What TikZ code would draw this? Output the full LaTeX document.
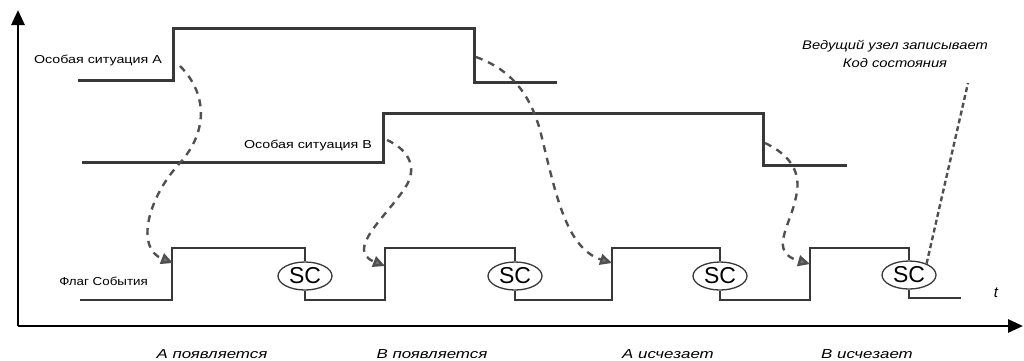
\documentclass[tikz,border=0pt]{standalone}
\usepackage{fontspec}
\setmainfont{Liberation Sans}
\usetikzlibrary{arrows.meta,shapes.geometric}
\definecolor{sig}{HTML}{383838}
\definecolor{dsh}{HTML}{505050}
\tikzset{
  axis/.style={line width=2.8pt, black, -{Triangle[length=15pt,width=13pt]}},
  signal/.style={line width=3pt, sig, line join=miter},
  flagline/.style={line width=2.4pt, sig},
  scnode/.style={ellipse, draw=sig, line width=1.3pt, fill=white, minimum width=54pt, minimum height=28pt, inner sep=0pt, font=\fontsize{23}{23}\selectfont},
  curvearrow/.style={dsh, line width=2.4pt, dash pattern=on 7pt off 6pt, -{Triangle[length=12pt,width=11pt,fill=dsh!80]}},
  lab/.style={font=\fontsize{11.5}{13}\selectfont, inner sep=0pt},
  evlab/.style={font=\fontsize{13}{15}\itshape, inner sep=0pt},
}
\begin{document}
\begin{tikzpicture}[x=1pt,y=-1pt]
\useasboundingbox (0,0) rectangle (1024,360);
% axes
\coordinate (o) at (18,326);
\coordinate (ytop) at (18,10);
\coordinate (xend) at (1023,326);
\draw[axis] (o) -- (ytop);
\draw[axis] (o) -- (xend);
% signal A
\coordinate (a0) at (78,80);
\coordinate (a1) at (173,80);
\coordinate (a2) at (173,28);
\coordinate (a3) at (474,28);
\coordinate (a4) at (474,82);
\coordinate (a5) at (557,82);
\draw[signal] (a0) -- (a1) -- (a2) -- (a3) -- (a4) -- (a5);
% signal B
\coordinate (b0) at (82,162);
\coordinate (b1) at (383,162);
\coordinate (b2) at (383,113);
\coordinate (b3) at (763,113);
\coordinate (b4) at (763,165);
\coordinate (b5) at (847,165);
\draw[signal] (b0) -- (b1) -- (b2) -- (b3) -- (b4) -- (b5);
% flag
\node[scnode] (sc1) at (305,276) {SC};
\node[scnode] (sc2) at (515,276) {SC};
\node[scnode] (sc3) at (720,276) {SC};
\node[scnode] (sc4) at (909,275) {SC};
\draw[flagline] (80,300) -- (172,300) -- (172,248) -- (305,248) -- (sc1.north);
\draw[flagline] (sc1.south) -- (305,300) -- (385,300) -- (385,248) -- (515,248) -- (sc2.north);
\draw[flagline] (sc2.south) -- (515,300) -- (612,300) -- (612,248) -- (720,248) -- (sc3.north);
\draw[flagline] (sc3.south) -- (720,300) -- (810,300) -- (810,248) -- (909,248) -- (sc4.north);
\draw[flagline] (sc4.south) -- (909,298) -- (961,298);
% labels
\node[lab, anchor=east] (la) at (162,60) {\scalebox{1.24}[1]{Особая ситуация А}};
\node[lab, anchor=east] (lb) at (372,145) {\scalebox{1.24}[1]{Особая ситуация В}};
\node[lab, anchor=east] (lf) at (148,281) {\scalebox{1.16}[1]{Флаг События}};
\node[evlab] (e1) at (212,354) {\scalebox{1.3}[1]{А появляется}};
\node[evlab] (e2) at (432,354) {\scalebox{1.3}[1]{В появляется}};
\node[evlab] (e3) at (668,354) {\scalebox{1.3}[1]{А исчезает}};
\node[evlab] (e4) at (867,354) {\scalebox{1.3}[1]{В исчезает}};
\node[evlab, align=center, font=\fontsize{12.5}{18}\itshape] (note) at (895,54) {\scalebox{1.18}[1]{Ведущий узел записывает}\\\scalebox{1.18}[1]{Код состояния}};
\node[evlab, font=\fontsize{15}{15}\itshape] (t) at (996,293) {t};
% dashed arrows
\coordinate (s1) at (180,66);
\coordinate (t1) at (173,263);
\draw[curvearrow] (s1) .. controls (206,92) and (210,130) .. (179,164) .. controls (148,198) and (135,248) .. (t1);
\coordinate (s2) at (387,140);
\coordinate (t2) at (385,266);
\draw[curvearrow] (s2) .. controls (405,148) and (420,165) .. (405,188) .. controls (385,218) and (345,250) .. (t2);
\coordinate (s3) at (476,57);
\coordinate (t3) at (612,263);
\draw[curvearrow] (s3) .. controls (512,70) and (530,95) .. (540,130) .. controls (555,190) and (565,248) .. (t3);
\coordinate (s4) at (765,143);
\coordinate (t4) at (810,264);
\draw[curvearrow] (s4) .. controls (790,155) and (802,172) .. (796,197) .. controls (790,227) and (768,252) .. (t4);
\coordinate (nt) at (968,83);
\draw[dsh, line width=2.4pt, dash pattern=on 5pt off 3pt] (sc4.north east) ++(-2,-1) -- (nt);
\end{tikzpicture}
\end{document}
